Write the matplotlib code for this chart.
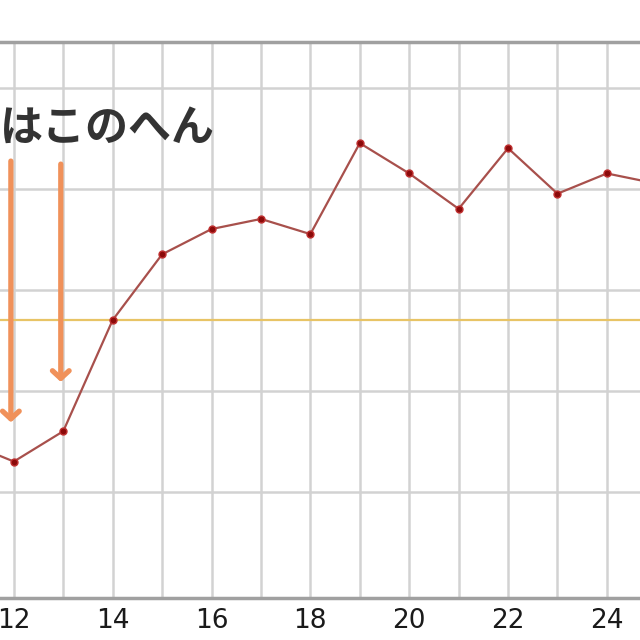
import matplotlib
matplotlib.use('Agg')
import matplotlib.pyplot as plt

# day of cycle vs temperature
days = [11, 12, 13, 14, 15, 16, 17, 18, 19, 20, 21, 22, 23, 24, 25]
temps = [36.25, 36.23, 36.26, 36.37, 36.435, 36.46, 36.47, 36.455,
         36.545, 36.515, 36.48, 36.54, 36.495, 36.515, 36.505]

baseline = 36.37
tick_days = [12, 14, 16, 18, 20, 22, 24]
note_text = "はこのへん"
# arrows: (day, start temp, tip temp)
arrows = [(11.94, 36.53, 36.266), (12.95, 36.527, 36.306)]

fig = plt.figure(figsize=(6.4, 6.4), dpi=100)
ax = fig.add_axes([0, 0.0656, 1, 0.8687])

ax.set_xlim(11.72, 24.67)
ax.set_ylim(36.095, 36.645)

# grid
for d in range(12, 25):
  ax.axvline(d, color='#d2d2d2', lw=1.8, zorder=0)
for t in [36.2, 36.3, 36.4, 36.5, 36.6]:
  ax.axhline(t, color='#d2d2d2', lw=1.8, zorder=0)

ax.axhline(baseline, color='#e8c466', lw=1.6, zorder=1)

ax.plot(days, temps, color='#a8504c', lw=1.6, zorder=3,
        marker='o', markersize=5, markerfacecolor='#8b0a0a', markeredgecolor='#c03030')

for x, y0, y1 in arrows:
  ax.annotate('', xy=(x, y1), xytext=(x, y0),
              arrowprops=dict(arrowstyle='->,head_length=0.55,head_width=0.6',
                              color='#f0915a', lw=3.8), zorder=2)

ax.text(0.0, 36.56, note_text, transform=ax.get_yaxis_transform(),
        ha='left', va='center', fontsize=31, fontweight='bold', color='#333333',
        family=['Noto Sans CJK JP', 'DejaVu Sans'])

ax.set_xticks(tick_days)
ax.set_xticklabels([str(d) for d in tick_days])
ax.tick_params(axis='x', length=0, pad=7, labelsize=19, labelcolor='#1a1a1a')
ax.set_yticks([])

for side in ['left', 'right']:
  ax.spines[side].set_visible(False)
for side in ['top', 'bottom']:
  ax.spines[side].set_color('#a0a0a0')
  ax.spines[side].set_linewidth(2.5)

fig.savefig('out.png', dpi=100)
